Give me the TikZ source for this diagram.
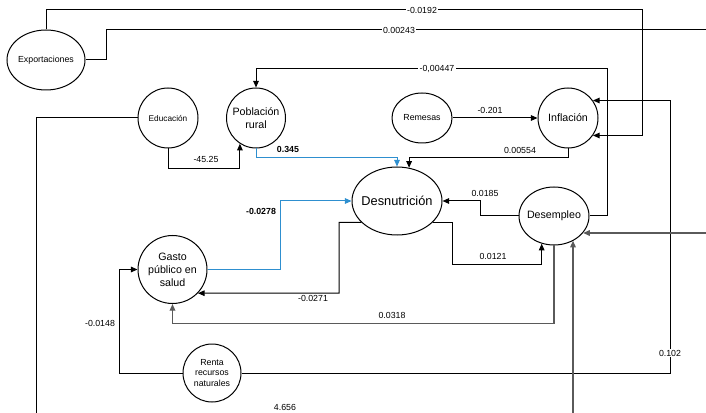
\documentclass[tikz,border=0pt]{standalone}
\usepackage{fontspec}
\setmainfont{Liberation Sans}
\usetikzlibrary{shapes.geometric,arrows.meta,calc}
\definecolor{lblue}{HTML}{2E8FCF}
\definecolor{lgray}{HTML}{5A5A5A}
\tikzset{
  var/.style={draw, ellipse, line width=0.75pt, inner sep=-30pt, align=center, font=\fontsize{6.6}{7.9}\selectfont},
  sz/.style 2 args={minimum width=#1*0.75pt, minimum height=#2*0.75pt},
  mid/.style={font=\fontsize{8}{9.75}\selectfont},
  conn/.style={line width=0.75pt, draw=black},
  arr/.style={conn, -{Triangle[length=5pt,width=4.2pt]}},
  garr/.style={arr, draw=lgray, line width=1pt},
  barr/.style={arr, draw=lblue, -{Triangle[length=5pt,width=4.2pt,fill=lblue]}},
  lbl/.style={inner sep=1pt, font=\fontsize{6.6}{7.9}\selectfont},
  lblb/.style={inner sep=1pt, font=\fontsize{6.6}{7.9}\selectfont\bfseries},
  onl/.style={lbl, fill=white}
}
\begin{document}
\begin{tikzpicture}[x=0.75pt,y=-0.75pt]
\useasboundingbox (0,0) rectangle (706,413);

% variables
\node[var, sz={78}{60}] (expo) at (46,60) {Exportaciones};
\node[var, sz={60}{60}, font=\fontsize{6.2}{7}\selectfont] (edu) at (168,118) {Educación};
\node[var, sz={59}{60}, mid] (pob) at (256,118) {Población\\rural};
\node[var, sz={60}{50}] (rem) at (422,118) {Remesas};
\node[var, sz={60}{60}, mid] (infl) at (568,118) {Inflación};
\node[var, sz={90}{68}, font=\fontsize{9.6}{11}\selectfont] (desn) at (397,201) {Desnutrición};
\node[var, sz={70}{58}, mid] (desem) at (554,216) {Desempleo};
\node[var, sz={69}{68}, mid] (gasto) at (172.5,269.5) {Gasto\\público en\\salud};
\node[var, sz={58}{58}] (renta) at (212,373) {Renta\\recursos\\naturales};

% free ends
\coordinate (e1) at (706,30);
\coordinate (e2) at (706,233);
\coordinate (e3) at (573,413);
\coordinate (e4) at (36,413);

% connectors
\draw[arr] (expo.north) |- (642,10) |- (infl.-35);
\draw[conn] (expo.east) -| (106,30) -- (e1);
\draw[arr] (desem.east) -| (607,69) -| (pob.north);
\draw[arr] (renta.east) -| (670,101) |- (infl.35);
\draw[conn] (edu.west) -| (e4);
\draw[garr] (e2) -- (e2 -| desem.-30);
\draw[garr] (e3) -- (e3 |- desem.-52);
\draw[garr] (desem.south) -- ++(0,78) -| (gasto.south);
\draw[arr] (rem.east) -- (infl.west);
\draw[arr] (edu.south) -- ++(0,20) -| (pob.-122);
\draw[barr] (pob.south) -- ++(0,9) -| (desn.north);
\draw[arr] (infl.south) -- ++(0,9) -| (desn.70);
\draw[barr] (gasto.east) -- (280,269.5) |- (desn.west);
\draw[arr] (desem.west) -- (480,216) |- (desn.east);
\draw[arr] (desn.-31) -| (452,264) -| (desem.-114);
\draw[arr] (desn.-149) -| (339,293) -- (gasto.-43);
\draw[arr] (renta.west) -| (119,269.5) -- (gasto.west);

% labels
\node[onl] (l1) at (422,10) {-0.0192};
\node[onl] (l2) at (399,30) {0.00243};
\node[onl] (l3) at (437,69) {-0,00447};
\node[onl] (l4) at (670,353) {0.102};
\node[lbl] (l5) at (490,110) {-0.201};
\node[lbl] (l6) at (520,150) {0.00554};
\node[lbl] (l7) at (485,193) {0.0185};
\node[lbl] (l8) at (493,256) {0.0121};
\node[lblb] (l9) at (288,149) {0.345};
\node[lbl] (l10) at (206,159) {-45.25};
\node[lblb] (l11) at (261,211) {-0.0278};
\node[lbl] (l12) at (313,298) {-0.0271};
\node[lbl] (l13) at (100,323) {-0.0148};
\node[lbl] (l14) at (392,315) {0.0318};
\node[lbl] (l15) at (285,407) {4.656};
\end{tikzpicture}
\end{document}
